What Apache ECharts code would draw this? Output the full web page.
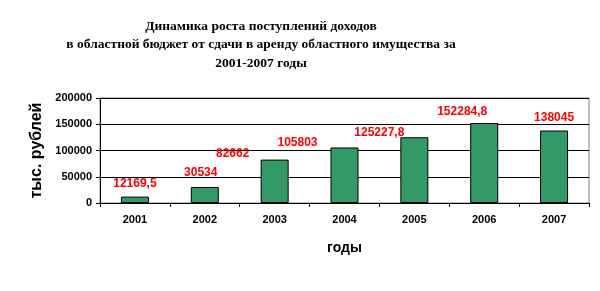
<!DOCTYPE html>
<html><head><meta charset="utf-8">
<script src="https://cdn.jsdelivr.net/npm/echarts@6/dist/echarts.min.js"></script>
<style>html,body{margin:0;padding:0;background:#fff}#c{width:600px;height:291px}</style>
</head><body><div id="c"></div>
<script>
var titleLines = ['Динамика роста поступлений доходов', 'в областной бюджет от сдачи в аренду областного имущества за', '2001-2007 годы'];
var years = ['2001', '2002', '2003', '2004', '2005', '2006', '2007'];
var values = [12169.5, 30534, 82662, 105803, 125227.8, 152284.8, 138045];
var valueLabels = ['12169,5', '30534', '82662', '105803', '125227,8', '152284,8', '138045'];
var yTicks = [0, 50000, 100000, 150000, 200000];
var labelOffsets = [[0, -2], [-4, -3], [-42, 5], [-47, 6], [-35, 6], [-22, 0], [0, -2]];

var chart = echarts.init(document.getElementById('c'), null, {renderer: 'canvas'});
var data = values.map(function (v, i) {
  return {value: v, label: {offset: labelOffsets[i], formatter: valueLabels[i]}};
});
chart.setOption({
  animation: false,
  backgroundColor: '#fff',
  title: {
    text: titleLines.join('\n'),
    left: 256, top: 12, textAlign: 'center',
    textStyle: {fontFamily: 'Liberation Serif', fontWeight: 'bold', fontSize: 13.5, lineHeight: 18.5, color: '#000'}
  },
  grid: {left: 100, right: 11, top: 98, bottom: 88, show: true, borderColor: '#808080', borderWidth: 1, backgroundColor: '#fff'},
  xAxis: {
    type: 'category', data: years,
    name: 'годы', nameLocation: 'middle', nameGap: 38,
    nameTextStyle: {fontFamily: 'Liberation Sans', fontWeight: 'bold', fontSize: 14, color: '#000'},
    axisLine: {lineStyle: {color: '#000', width: 1}},
    axisTick: {show: true, length: 4, lineStyle: {color: '#000'}},
    axisLabel: {fontFamily: 'Liberation Sans', fontWeight: 'bold', fontSize: 11, color: '#000', margin: 11}
  },
  yAxis: {
    type: 'value', min: yTicks[0], max: yTicks[yTicks.length - 1], interval: yTicks[1] - yTicks[0],
    name: 'тыс. рублей', nameLocation: 'middle', nameGap: 52, nameRotate: 90,
    nameTextStyle: {fontFamily: 'Liberation Sans', fontWeight: 'bold', fontSize: 16, color: '#000'},
    axisLine: {show: true, lineStyle: {color: '#000', width: 1}},
    axisTick: {show: true, length: 4, lineStyle: {color: '#000'}},
    axisLabel: {fontFamily: 'Liberation Sans', fontWeight: 'bold', fontSize: 11, color: '#000', margin: 8,
      formatter: function (v) { return String(v); }},
    splitLine: {show: true, lineStyle: {color: '#000', width: 1}}
  },
  series: [{
    type: 'bar', data: data, barWidth: 28,
    itemStyle: {color: '#339966', borderColor: '#000', borderWidth: 1},
    label: {show: true, position: 'top', distance: 5, color: '#ff0000', fontFamily: 'Liberation Sans', fontWeight: 'bold', fontSize: 12}
  }]
});
</script></body></html>
